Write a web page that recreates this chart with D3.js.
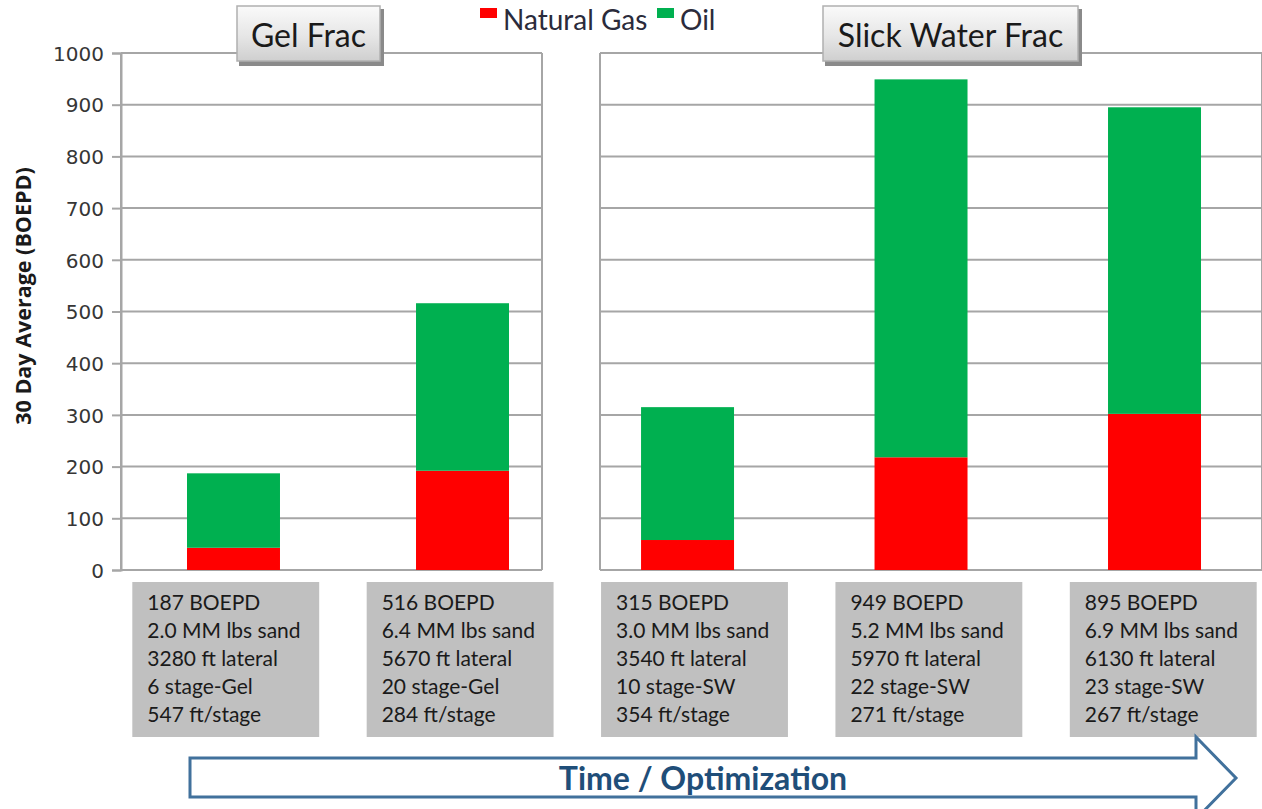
<!DOCTYPE html>
<html>
<head>
<meta charset="utf-8">
<script src="https://cdn.jsdelivr.net/npm/d3@7"></script>
<style>
  html, body { margin: 0; padding: 0; background: #ffffff; }
  svg { display: block; }
</style>
</head>
<body>
<svg id="chart" width="1262" height="809"></svg>
<script>
// ---------------- data ----------------
const categories = ["Gel 1", "Gel 2", "SW 1", "SW 2", "SW 3"];
const gelCategories = ["Gel 1", "Gel 2"];
const swCategories = ["SW 1", "SW 2", "SW 3"];
const gasValues = [43, 192, 58, 218, 302];
const oilValues = [144, 324, 257, 731, 593];
const yTicks = [0, 100, 200, 300, 400, 500, 600, 700, 800, 900, 1000];
const boepdLabels = ["187 BOEPD", "516 BOEPD", "315 BOEPD", "949 BOEPD", "895 BOEPD"];
const sandLabels = ["2.0 MM lbs sand", "6.4 MM lbs sand", "3.0 MM lbs sand", "5.2 MM lbs sand", "6.9 MM lbs sand"];
const lateralLabels = ["3280 ft lateral", "5670 ft lateral", "3540 ft lateral", "5970 ft lateral", "6130 ft lateral"];
const stageLabels = ["6 stage-Gel", "20 stage-Gel", "10 stage-SW", "22 stage-SW", "23 stage-SW"];
const ftStageLabels = ["547 ft/stage", "284 ft/stage", "354 ft/stage", "271 ft/stage", "267 ft/stage"];
const panelNames = ["Gel Frac", "Slick Water Frac"];
const seriesNames = ["Natural Gas", "Oil"];
const seriesColors = ["#ff0000", "#00b050"];
const yTitle = "30 Day Average (BOEPD)";
const arrowLabel = "Time / Optimization";

// ---------------- layout ----------------
const svg = d3.select("#chart");
const y = d3.scaleLinear().domain([0, 1000]).range([570, 53]);
const xGel = d3.scaleBand().domain(gelCategories).range([118.3, 577.7]).paddingInner(0.594).paddingOuter(0.3);
const xSw = d3.scaleBand().domain(swCategories).range([571, 1271]).paddingInner(0.602).paddingOuter(0.3);
const xBar = c => (gelCategories.includes(c) ? xGel(c) : xSw(c));
const barW = xGel.bandwidth();
// info boxes scale
const xBox = d3.scaleBand().domain(categories).range([62, 1327]).paddingInner(0.2026).paddingOuter(0.3);

const panels = [
  { name: panelNames[0], x0: 121, x1: 542, bx: 237, bw: 145 },
  { name: panelNames[1], x0: 600, x1: 1262, bx: 823, bw: 257 }
];
const gridColor = "#a6a6a6";
const font = "Lato, 'Open Sans', sans-serif";

// gridlines per panel
panels.forEach(p => {
  const g = svg.append("g");
  g.selectAll("line.grid").data(yTicks).join("line")
    .attr("x1", p.x0).attr("x2", p.x1)
    .attr("y1", d => y(d)).attr("y2", d => y(d))
    .attr("stroke", gridColor).attr("stroke-width", 2);
  g.append("line").attr("x1", p.x0).attr("x2", p.x0).attr("y1", y(1000)).attr("y2", y(0))
    .attr("stroke", gridColor).attr("stroke-width", 2);
  g.append("line").attr("x1", p.x1).attr("x2", p.x1).attr("y1", y(1000)).attr("y2", y(0))
    .attr("stroke", gridColor).attr("stroke-width", 2);
});

// left axis
const axis = svg.append("g").attr("transform", "translate(121,0)")
  .call(d3.axisLeft(y).tickValues(yTicks).tickFormat(d3.format("d")).tickSize(9).tickPadding(8));
axis.select(".domain").attr("stroke", gridColor).attr("stroke-width", 2);
axis.selectAll(".tick line").attr("stroke", gridColor).attr("stroke-width", 2);
axis.selectAll(".tick text")
  .attr("font-family", "'DejaVu Sans', Verdana, sans-serif")
  .attr("font-size", 20).attr("fill", "#363636").attr("dy", "0.36em");

// y title
svg.append("text")
  .attr("transform", "translate(31,296) rotate(-90)")
  .attr("text-anchor", "middle")
  .attr("font-family", "'Open Sans', sans-serif")
  .attr("font-weight", "bold").attr("font-size", 21.5).attr("fill", "#1a1a1a")
  .text(yTitle);

// stacked bars
const stackData = categories.map((c, i) => ({ cat: c, gas: gasValues[i], oil: oilValues[i] }));
const stack = d3.stack().keys(["gas", "oil"])(stackData);
svg.append("g").selectAll("g").data(stack).join("g")
  .attr("fill", (d, i) => seriesColors[i])
  .selectAll("rect").data(d => d).join("rect")
  .attr("x", d => xBar(d.data.cat))
  .attr("width", barW)
  .attr("y", d => y(d[1]))
  .attr("height", d => y(d[0]) - y(d[1]));

// info boxes
const info = svg.append("g").selectAll("g").data(categories).join("g")
  .attr("transform", d => `translate(${xBox(d)},582)`);
info.append("rect").attr("width", xBox.bandwidth()).attr("height", 155).attr("fill", "#c0c0c0");
info.each(function (d, i) {
  const lines = [boepdLabels[i], sandLabels[i], lateralLabels[i], stageLabels[i], ftStageLabels[i]];
  d3.select(this).selectAll("text").data(lines).join("text")
    .attr("x", 15).attr("y", (t, k) => 28 + k * 28)
    .attr("font-family", font).attr("font-size", 21).attr("fill", "#1a1a1a")
    .text(t => t);
});

// panel title buttons
const defs = svg.append("defs");
const grad = defs.append("linearGradient").attr("id", "btn").attr("x1", 0).attr("x2", 0).attr("y1", 0).attr("y2", 1);
grad.append("stop").attr("offset", "0%").attr("stop-color", "#fafafa");
grad.append("stop").attr("offset", "55%").attr("stop-color", "#e6e6e6");
grad.append("stop").attr("offset", "100%").attr("stop-color", "#cfcfcf");
panels.forEach(p => {
  const g = svg.append("g").attr("transform", `translate(${p.bx},6)`);
  g.append("rect").attr("x", 2).attr("y", 3).attr("width", p.bw).attr("height", 57).attr("fill", "#8a8a8a");
  g.append("rect").attr("width", p.bw - 2).attr("height", 55).attr("fill", "url(#btn)")
    .attr("stroke", "#b0b0b0").attr("stroke-width", 1.5);
  g.append("text").attr("x", (p.bw - 2) / 2).attr("y", 41)
    .attr("text-anchor", "middle").attr("font-family", font)
    .attr("font-size", 32).attr("fill", "#1a1a1a").text(p.name);
});

// legend
const legendItems = [
  { name: seriesNames[0], color: seriesColors[0], sx: 480, tx: 503 },
  { name: seriesNames[1], color: seriesColors[1], sx: 657, tx: 680 }
];
const lg = svg.append("g");
lg.selectAll("rect").data(legendItems).join("rect")
  .attr("x", d => d.sx).attr("y", 8).attr("width", 17).attr("height", 10).attr("fill", d => d.color);
lg.selectAll("text").data(legendItems).join("text")
  .attr("x", d => d.tx).attr("y", 30)
  .attr("font-family", font).attr("font-size", 28).attr("fill", "#2b2b3b")
  .text(d => d.name);

// arrow
const arrowPath = d3.path();
arrowPath.moveTo(190, 758);
arrowPath.lineTo(1196, 758);
arrowPath.lineTo(1196, 737);
arrowPath.lineTo(1236, 778);
arrowPath.lineTo(1196, 819);
arrowPath.lineTo(1196, 797);
arrowPath.lineTo(190, 797);
arrowPath.closePath();
svg.append("path").attr("d", arrowPath.toString())
  .attr("fill", "#ffffff").attr("stroke", "#41719c").attr("stroke-width", 3);
svg.append("text").attr("x", 703).attr("y", 790)
  .attr("text-anchor", "middle").attr("font-family", font)
  .attr("font-weight", "bold").attr("font-size", 32).attr("fill", "#1f4e79")
  .text(arrowLabel);
</script>
</body>
</html>
